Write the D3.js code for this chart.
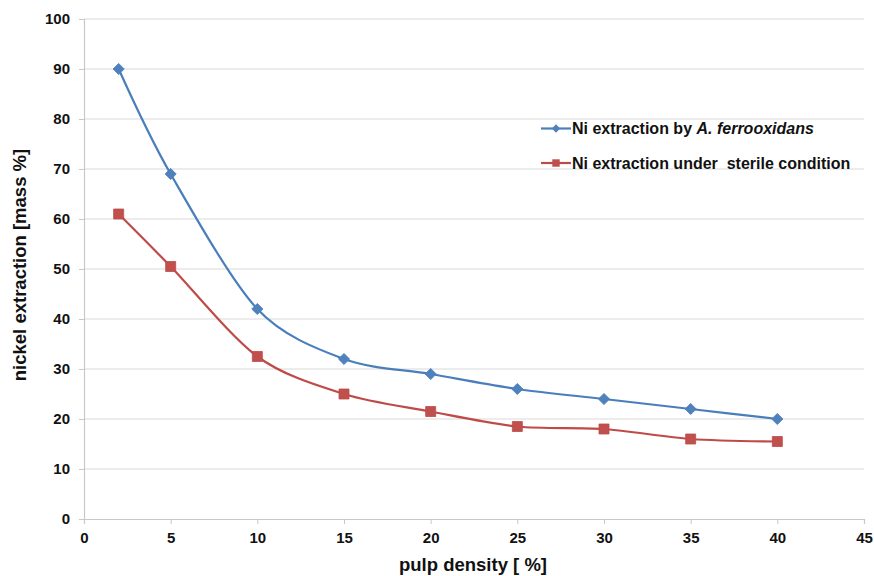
<!DOCTYPE html>
<html>
<head>
<meta charset="utf-8">
<script src="https://cdn.jsdelivr.net/npm/d3@7/dist/d3.min.js"></script>
<style>
  html, body { margin: 0; padding: 0; background: #fff; }
  svg { display: block; font-family: "Liberation Sans", Arial, sans-serif; }
</style>
</head>
<body>
<svg id="chart" width="874" height="576"></svg>
<script>
// Pulp density (%) and nickel extraction (mass %)
const pulpDensity = [2, 5, 10, 15, 20, 25, 30, 35, 40];
const bioExtraction = [90, 69, 42, 32, 29, 26, 24, 22, 20];
const sterileExtraction = [61, 50.5, 32.5, 25, 21.5, 18.5, 18, 16, 15.5];
const xTicks = [0, 5, 10, 15, 20, 25, 30, 35, 40, 45];
const yTicks = [0, 10, 20, 30, 40, 50, 60, 70, 80, 90, 100];

const svg = d3.select("#chart");

const x = d3.scaleLinear().domain([0, 45]).range([84, 864]);
const y = d3.scaleLinear().domain([0, 100]).range([519, 19]);

// horizontal gridlines
svg.append("g")
  .selectAll("line")
  .data(yTicks.filter(d => d > 0))
  .join("line")
  .attr("x1", x(0)).attr("x2", x(45))
  .attr("y1", d => y(d)).attr("y2", d => y(d))
  .attr("stroke", "#d9d9d9").attr("stroke-width", 1.2);

function styleTicks(g) {
  g.select(".domain").attr("stroke", "#c8c8c8").attr("stroke-width", 1.2);
  g.selectAll(".tick line").attr("stroke", "#c8c8c8");
  g.selectAll("text")
    .attr("font-size", 15).attr("font-weight", "bold").attr("fill", "#111")
    .style("font-family", "'Liberation Sans', Arial, sans-serif");
}

// y axis
svg.append("g")
  .attr("transform", `translate(${x(0)},0)`)
  .call(d3.axisLeft(y).tickValues(yTicks).tickSize(5).tickPadding(9))
  .call(styleTicks);

// x axis
svg.append("g")
  .attr("transform", `translate(0,${y(0)})`)
  .call(d3.axisBottom(x).tickValues(xTicks).tickSize(5).tickPadding(8))
  .call(styleTicks);

// axis titles
svg.append("text")
  .attr("x", 473).attr("y", 571)
  .attr("text-anchor", "middle")
  .attr("font-size", 18.5).attr("font-weight", "bold").attr("fill", "#111")
  .text("pulp density [ %]");

svg.append("text")
  .attr("transform", "translate(26,265) rotate(-90)")
  .attr("text-anchor", "middle")
  .attr("font-size", 18.5).attr("font-weight", "bold").attr("fill", "#111")
  .text("nickel extraction [mass %]");

const series = [
  { values: bioExtraction, line: "#4a7ebb", fill: "#4f81bd", marker: d3.symbolSquare, rot: 45, size: 62 },
  { values: sterileExtraction, line: "#be4b48", fill: "#c0504d", marker: d3.symbolSquare, rot: 0, size: 100 }
];

const lineGen = d3.line()
  .x(d => x(d[0]))
  .y(d => y(d[1]))
  .curve(d3.curveCardinal.tension(0.1));

series.forEach(s => {
  const pts = pulpDensity.map((p, i) => [p, s.values[i]]);
  svg.append("path")
    .datum(pts)
    .attr("d", lineGen)
    .attr("fill", "none")
    .attr("stroke", s.line)
    .attr("stroke-width", 2.2);
  svg.append("g")
    .selectAll("path")
    .data(pts)
    .join("path")
    .attr("transform", d => `translate(${x(d[0])},${y(d[1])}) rotate(${s.rot})`)
    .attr("d", d3.symbol(s.marker, s.size))
    .attr("fill", s.fill)
    .attr("stroke", s.line)
    .attr("stroke-width", 0.8);
});

// legend
const legend = svg.append("g");
const legendItems = [
  { s: series[0], y: 128.5, parts: [["Ni extraction by ", "normal"], ["A. ferrooxidans", "italic"]] },
  { s: series[1], y: 163, parts: [["Ni extraction under  sterile condition", "normal"]] }
];
legendItems.forEach(item => {
  legend.append("line")
    .attr("x1", 541).attr("x2", 571)
    .attr("y1", item.y).attr("y2", item.y)
    .attr("stroke", item.s.line).attr("stroke-width", 2.2);
  legend.append("path")
    .attr("transform", `translate(556,${item.y}) rotate(${item.s.rot})`)
    .attr("d", d3.symbol(item.s.marker, item.s.size * 0.55))
    .attr("fill", item.s.fill);
  const t = legend.append("text")
    .attr("x", 572).attr("y", item.y + 5.5)
    .attr("font-size", 16).attr("font-weight", "bold").attr("fill", "#111")
    .attr("xml:space", "preserve")
    .style("white-space", "pre");
  item.parts.forEach(p => {
    t.append("tspan").attr("font-style", p[1]).text(p[0]);
  });
});
</script>
</body>
</html>
